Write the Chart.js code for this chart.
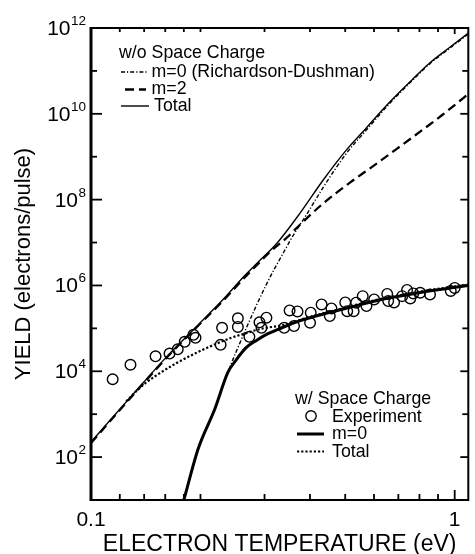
<!DOCTYPE html>
<html>
<head>
<meta charset="utf-8">
<script src="https://cdn.jsdelivr.net/npm/chart.js@4/dist/chart.umd.min.js"></script>
<style>
html,body{margin:0;padding:0;background:#fff;}
canvas{display:block;}
</style>
</head>
<body>
<canvas id="c" width="475" height="554"></canvas>
<script>
// ---- Data (electron temperature in eV, yields as log10) ----
// w/o space charge: Total
const tTotalNoSC   = [0.100,0.130,0.164,0.197,0.230,0.264,0.287,0.325,0.376,0.436,0.504,0.570,0.659,0.763,0.855,0.970,1.090];
const lgTotalNoSC  = [2.35,3.45,4.40,5.08,5.66,6.22,6.53,6.99,7.69,8.47,9.16,9.66,10.25,10.79,11.19,11.55,11.88];
// w/o space charge: m=2
const tM2  = [0.100,0.130,0.164,0.197,0.230,0.264,0.287,0.312,0.346,0.376,0.436,0.514,0.594,0.687,0.779,0.920,1.090];
const lgM2 = [2.33,3.43,4.38,5.06,5.63,6.18,6.49,6.80,7.12,7.42,7.92,8.39,8.77,9.16,9.50,9.96,10.46];
// w/o space charge: m=0 (Richardson-Dushman)
const tM0  = [0.180,0.197,0.219,0.238,0.264,0.305,0.339,0.360,0.392,0.436,0.504,0.570,0.659,0.763,0.855,0.970,1.090];
const lgM0 = [1.00,2.19,3.12,3.98,4.90,6.06,6.78,7.17,7.66,8.30,9.08,9.61,10.22,10.77,11.17,11.53,11.86];
// w/ space charge: m=0
const tM0SC  = [0.180,0.197,0.219,0.238,0.250,0.267,0.285,0.302,0.336,0.373,0.421,0.509,0.620,0.750,0.850,1.090];
const lgM0SC = [1.00,2.19,3.12,3.98,4.25,4.55,4.72,4.85,5.02,5.17,5.30,5.48,5.66,5.79,5.87,6.00];
// w/ space charge: Total
const tTotalSC  = [0.125,0.133,0.140,0.151,0.171,0.197,0.221,0.243,0.265,0.290,0.343,0.373,0.421,0.509,0.620,0.750,0.850,1.090];
const lgTotalSC = [3.30,3.53,3.70,3.90,4.18,4.45,4.64,4.78,4.88,4.98,5.09,5.19,5.32,5.50,5.68,5.81,5.89,6.02];
// Experiment (open circles)
const tExp = [0.1147,0.1284,0.1505,0.1644,0.1732,0.1810,0.1913,0.1938,0.2272,0.2293,0.2534,0.2534,0.2726,0.2906,0.3036,0.2943,0.3398,0.3516,0.3697,0.3616,0.4020,0.4003,0.4306,0.4583,0.4535,0.5002,0.5064,0.5274,0.5358,0.5586,0.5721,0.6006,0.6523,0.6564,0.6813,0.7171,0.7397,0.7551,0.7695,0.8037,0.8554,0.9754,1.0000];
const yExp = [6.52e3,1.42e4,2.23e4,2.58e4,3.25e4,4.85e4,7.06e4,6.01e4,4.13e4,1.03e5,1.71e5,1.08e5,6.34e4,1.38e5,1.77e5,1.03e5,1.03e5,2.62e5,2.48e5,1.13e5,2.32e5,1.36e5,3.61e5,2.92e5,1.93e5,4.03e5,2.52e5,2.52e5,3.96e5,5.64e5,3.30e5,4.72e5,6.34e5,4.32e5,4.03e5,5.64e5,7.85e5,4.99e5,6.52e5,6.76e5,6.18e5,7.45e5,8.75e5];
// Axis ticks
const xTickValues = [0.1,0.12,0.14,0.16,0.18,0.2,0.3,0.4,0.5,0.6,0.7,0.8,0.9,1];
const xTickLabels = ['0.1','','','','','','','','','','','','','1'];
const yTickExponents = [1,2,3,4,5,6,7,8,9,10,11,12];
const yLabelExponents = [2,4,6,8,10,12];

const FONT = '"Liberation Sans", Arial, Helvetica, sans-serif';
const fromLog = (ts, ls) => ts.map((t, i) => ({x: t, y: Math.pow(10, ls[i])}));

const styles = {
  m0SC:    {borderColor:'#000', borderWidth:3, borderDash:[]},
  totalSC: {borderColor:'#000', borderWidth:2.2, borderDash:[2.2,2]},
  totalNo: {borderColor:'#000', borderWidth:1.4, borderDash:[]},
  m0No:    {borderColor:'#000', borderWidth:1.4, borderDash:[4,2,1.2,2]},
  m2:      {borderColor:'#000', borderWidth:2.3, borderDash:[9,5]}
};

const lineDs = (label, data, st) => Object.assign({
  label, data, showLine:true, pointRadius:0, fill:false,
  cubicInterpolationMode:'monotone'
}, st);

const datasets = [
  {label:'Experiment', data: tExp.map((t,i)=>({x:t,y:yExp[i]})), showLine:false,
    pointRadius:5.3, pointBorderWidth:1.4, pointBackgroundColor:'rgba(0,0,0,0)', pointBorderColor:'#000', pointStyle:'circle'},
  lineDs('m=0 (w/ space charge)', fromLog(tM0SC, lgM0SC), styles.m0SC),
  lineDs('Total (w/ space charge)', fromLog(tTotalSC, lgTotalSC), styles.totalSC),
  lineDs('Total (w/o space charge)', fromLog(tTotalNoSC, lgTotalNoSC), styles.totalNo),
  lineDs('m=0 (Richardson-Dushman)', fromLog(tM0, lgM0), styles.m0No),
  lineDs('m=2', fromLog(tM2, lgM2), styles.m2)
];

function seg(ctx, x1, y1, x2, y2){ ctx.beginPath(); ctx.moveTo(x1,y1); ctx.lineTo(x2,y2); ctx.stroke(); }

const deco = {
  id: 'deco',
  afterDraw(chart){
    const ctx = chart.ctx;
    const {left, right, top, bottom} = chart.chartArea;
    const xs = chart.scales.x, ys = chart.scales.y;
    ctx.save();
    ctx.strokeStyle = '#000';
    ctx.fillStyle = '#000';
    ctx.setLineDash([]);
    ctx.lineWidth = 1.8;
    ys.ticks.forEach(t => {
      const p = ys.getPixelForValue(t.value);
      const e = Math.round(Math.log10(t.value));
      const major = yLabelExponents.includes(e);
      seg(ctx, left, p, left + (major ? 11 : 6), p);
      seg(ctx, right, p, right - (major ? 8 : 6), p);
    });
    xs.ticks.forEach((t, i) => {
      const p = xs.getPixelForValue(t.value);
      const major = xTickLabels[i] !== '';
      seg(ctx, p, bottom, p, bottom - (major ? 10 : 6));
      seg(ctx, p, top, p, top + (major ? 6 : 4));
    });
    ctx.lineWidth = 2;
    ctx.strokeRect(left, top, right - left, bottom - top);
    ctx.lineWidth = 3;
    seg(ctx, left, top - 1, left, bottom + 1);
    // y tick labels with superscript exponents
    ctx.textAlign = 'right';
    ctx.textBaseline = 'alphabetic';
    yLabelExponents.forEach(e => {
      const p = ys.getPixelForValue(Math.pow(10, e));
      ctx.font = '13.5px ' + FONT;
      const es = String(e);
      const ew = ctx.measureText(es).width;
      ctx.fillText(es, 86, p - 3);
      ctx.font = '21px ' + FONT;
      ctx.fillText('10', 86 - ew - 0.5, p + 7);
    });
    // legends
    ctx.textAlign = 'left';
    ctx.font = '17.75px ' + FONT;
    const sample = (x1, x2, y, st) => {
      ctx.save();
      ctx.lineWidth = st.borderWidth;
      ctx.setLineDash(st.borderDash || []);
      seg(ctx, x1, y, x2, y);
      ctx.restore();
    };
    ctx.fillText('w/o Space Charge', 119, 58);
    sample(121, 148, 72, styles.m0No);
    ctx.fillText('m=0 (Richardson-Dushman)', 151.5, 77);
    sample(125, 146, 89.5, styles.m2);
    ctx.fillText('m=2', 151.5, 94);
    sample(121, 149, 106, styles.totalNo);
    ctx.fillText('Total', 154, 111);
    ctx.fillText('w/ Space Charge', 295, 403.5);
    ctx.save();
    ctx.lineWidth = 1.4;
    ctx.beginPath(); ctx.arc(311, 416, 5.2, 0, Math.PI*2); ctx.stroke();
    ctx.restore();
    ctx.fillText('Experiment', 332, 421.5);
    sample(297, 324, 434, styles.m0SC);
    ctx.fillText('m=0', 332, 439);
    sample(297, 324, 451.5, styles.totalSC);
    ctx.fillText('Total', 332, 457);
    ctx.restore();
  }
};

new Chart(document.getElementById('c'), {
  type: 'scatter',
  data: { datasets },
  options: {
    responsive: false,
    animation: false,
    devicePixelRatio: 1,
    layout: { padding: { top: 28, right: 1, left: 0, bottom: 0 } },
    plugins: { legend: { display: false }, tooltip: { enabled: false } },
    scales: {
      x: {
        type: 'logarithmic', position: 'bottom', min: 0.1, max: 1.09,
        grid: { display: false, drawTicks: false }, border: { display: false },
        afterBuildTicks: s => { s.ticks = xTickValues.map(v => ({ value: v })); },
        afterFit: s => { s.height = 54; },
        ticks: {
          autoSkip: false, maxRotation: 0, padding: 8, color: '#000',
          font: { family: FONT, size: 21 },
          callback: (v, i) => xTickLabels[i]
        },
        title: { display: true, text: 'ELECTRON TEMPERATURE (eV)', color: '#000',
          font: { family: FONT, size: 23, lineHeight: 1 }, padding: { top: 0, bottom: -2 } }
      },
      y: {
        type: 'logarithmic', position: 'left', min: 10, max: 1e12,
        grid: { display: false, drawTicks: false }, border: { display: false },
        afterBuildTicks: s => { s.ticks = yTickExponents.map(e => ({ value: Math.pow(10, e) })); },
        afterFit: s => { s.width = 91; },
        ticks: { display: false },
        title: { display: true, text: 'YIELD (electrons/pulse)', color: '#000',
          font: { family: FONT, size: 22, lineHeight: 1 }, padding: { top: 13, bottom: 0 } }
      }
    }
  },
  plugins: [deco]
});
</script>
</body>
</html>
